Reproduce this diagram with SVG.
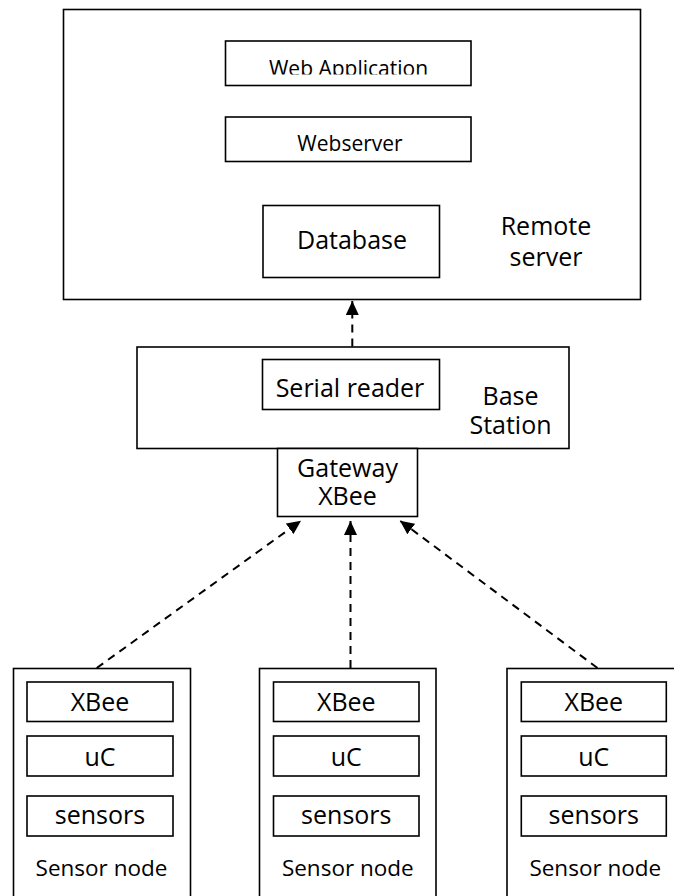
<svg xmlns="http://www.w3.org/2000/svg" width="674" height="896" viewBox="0 0 674 896">
  <style>
    .box { fill: #ffffff; stroke: #000000; stroke-width: 1.6; }
    .t { font-family: "Open Sans", "Noto Sans", "DejaVu Sans", sans-serif; fill: #000000; text-anchor: middle; }
    .s21 { font-size: 21px; }
    .s25 { font-size: 25px; }
    .s22 { font-size: 22.5px; }
    .link { fill: none; stroke: #000000; stroke-width: 2; stroke-dasharray: 8 6; }
  </style>
  <defs>
    <marker id="arrow" viewBox="0 0 14 13" markerWidth="14" markerHeight="13" refX="14" refY="6.5" orient="auto" markerUnits="userSpaceOnUse">
      <path d="M0,0 L14,6.5 L0,13 Z" fill="#000000" stroke="none"/>
    </marker>
    <clipPath id="clipWebApp">
      <rect x="226" y="41" width="244" height="33.5"/>
    </clipPath>
  </defs>
  <rect width="674" height="896" fill="#ffffff"/>

  <g id="remote-server">
    <rect class="box" x="63.5" y="9.5" width="577" height="290"/>
    <text class="t s25" x="546" y="235">Remote</text>
    <text class="t s25" x="546" y="265.5">server</text>
  </g>
  <g id="web-application">
    <rect class="box" x="225.5" y="41" width="245.5" height="44.5"/>
    <text class="t s21" x="348.5" y="75.7" clip-path="url(#clipWebApp)">Web Application</text>
  </g>
  <g id="webserver">
    <rect class="box" x="225.5" y="117" width="245.5" height="44.5"/>
    <text class="t s21" x="350" y="151">Webserver</text>
  </g>
  <g id="database">
    <rect class="box" x="263" y="205.5" width="176.5" height="72"/>
    <text class="t s25" x="352" y="249">Database</text>
  </g>

  <g id="base-station">
    <rect class="box" x="137" y="347" width="432" height="101.5"/>
    <text class="t s25" x="510.5" y="405">Base</text>
    <text class="t s25" x="510.5" y="433.5">Station</text>
  </g>
  <g id="serial-reader">
    <rect class="box" x="262.5" y="359.5" width="177" height="50"/>
    <text class="t s25" x="350" y="396.7">Serial reader</text>
  </g>
  <g id="gateway-xbee">
    <rect class="box" x="277.5" y="448.5" width="140" height="68"/>
    <text class="t s25" x="347.5" y="476.7">Gateway</text>
    <text class="t s25" x="347.5" y="505">XBee</text>
  </g>

  <g id="sensor-node-1">
    <rect class="box" x="13.5" y="668.5" width="177" height="240"/>
    <rect class="box" x="27" y="682" width="146" height="39.5"/>
    <rect class="box" x="27" y="736" width="146" height="40"/>
    <rect class="box" x="27" y="796" width="146" height="40"/>
    <text class="t s25" x="100" y="710.7">XBee</text>
    <text class="t s25" x="100" y="765.5">uC</text>
    <text class="t s25" x="100" y="824.3">sensors</text>
    <text class="t s22" x="101.5" y="876">Sensor node</text>
  </g>
  <g id="sensor-node-2">
    <rect class="box" x="259.5" y="668.5" width="176.5" height="240"/>
    <rect class="box" x="273.5" y="682" width="145.5" height="39.5"/>
    <rect class="box" x="273.5" y="736" width="145.5" height="40"/>
    <rect class="box" x="273.5" y="796" width="145.5" height="40"/>
    <text class="t s25" x="346.3" y="710.7">XBee</text>
    <text class="t s25" x="346.3" y="765.5">uC</text>
    <text class="t s25" x="346.3" y="824.3">sensors</text>
    <text class="t s22" x="347.8" y="876">Sensor node</text>
  </g>
  <g id="sensor-node-3">
    <rect class="box" x="507" y="668.5" width="177" height="240"/>
    <rect class="box" x="521.3" y="682" width="145" height="39.5"/>
    <rect class="box" x="521.3" y="736" width="145" height="40"/>
    <rect class="box" x="521.3" y="796" width="145" height="40"/>
    <text class="t s25" x="593.8" y="710.7">XBee</text>
    <text class="t s25" x="593.8" y="765.5">uC</text>
    <text class="t s25" x="593.8" y="824.3">sensors</text>
    <text class="t s22" x="595.3" y="876">Sensor node</text>
  </g>

  <g id="connectors">
    <line class="link" x1="352.3" y1="346.5" x2="352.3" y2="301" marker-end="url(#arrow)"/>
    <line class="link" x1="96.7" y1="668" x2="301" y2="520.7" marker-end="url(#arrow)"/>
    <line class="link" x1="350.5" y1="668" x2="350.5" y2="521" marker-end="url(#arrow)"/>
    <line class="link" x1="597.5" y1="668" x2="400" y2="520.7" marker-end="url(#arrow)"/>
  </g>
</svg>
